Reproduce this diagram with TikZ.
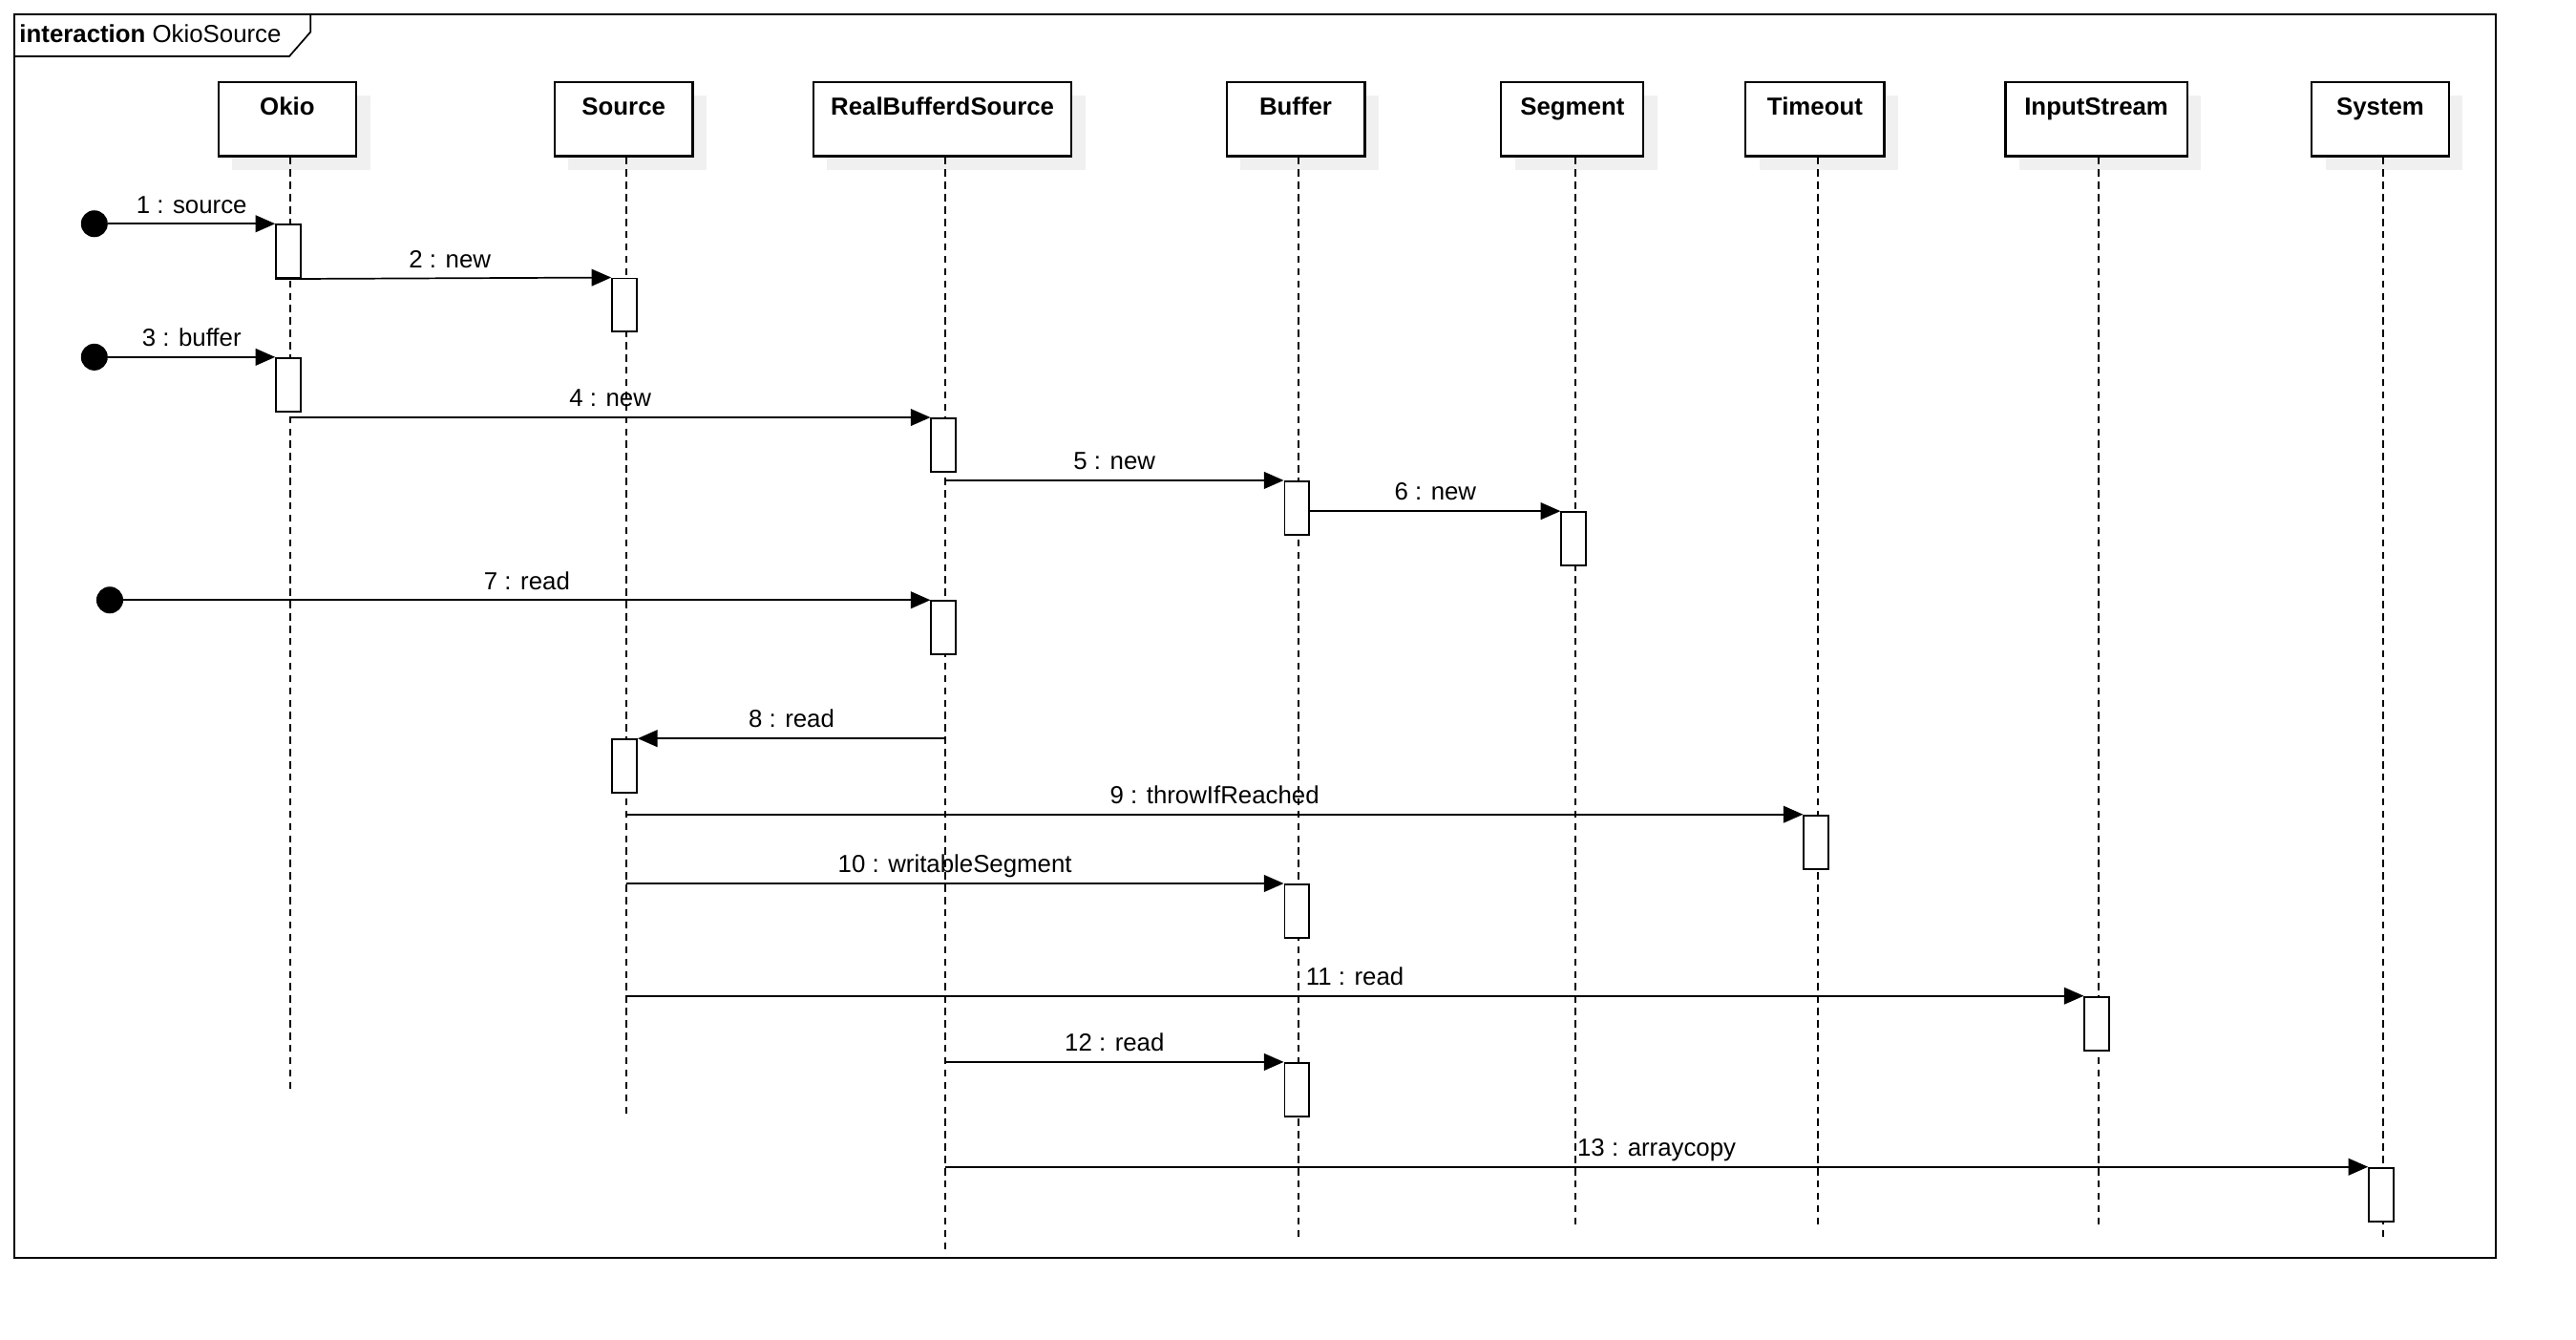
\documentclass[tikz,border=0pt]{standalone}
\usepackage{fontspec}
\setmainfont{Liberation Sans}
\usetikzlibrary{arrows.meta,shadows}
\begin{document}
\begin{tikzpicture}[x=1pt,y=-1pt,
  every node/.style={font=\fontsize{15pt}{18pt}\selectfont},
  headbox/.style={draw,line width=1.2pt,fill=white,rectangle,anchor=north,
    minimum height=45pt,inner xsep=2pt,inner ysep=9.2pt,text height=10.7pt,text depth=15.9pt,
    font=\fontsize{15pt}{18pt}\selectfont\bfseries,
    drop shadow={shadow xshift=8.4pt,shadow yshift=-8.2pt,fill=black!6,opacity=1}},
  actbox/.style={draw,line width=1.1pt,fill=white,rectangle,anchor=north,
    minimum width=15pt,minimum height=32.5pt,inner sep=0pt},
  lifeline/.style={line width=1pt,dash pattern=on 4.3pt off 3.2pt},
  msg/.style={line width=1pt,-{Triangle[length=12pt,width=10.3pt]}},
  lbl/.style={anchor=base,yshift=6.5pt,inner sep=0pt},
  startdot/.style={circle,fill=black,inner sep=0pt,minimum size=16.3pt},
  frameline/.style={line width=1pt}]
\useasboundingbox (0,0) rectangle (1567.5,814.6);
% frame
\draw[frameline] (8.6,8.7) rectangle (1518.5,765);
\draw[frameline] (8.6,34.3) -- (176,34.3) -- (189,19.4) -- (189,8.7);
\node[anchor=base west,inner sep=0pt] (title) at (11.7,25.8) {\textbf{interaction} OkioSource};
% lifeline heads
\node[headbox,minimum width=84pt]   (okio)   at (174.8,49.4)  {Okio};
\node[headbox,minimum width=84pt]   (source) at (379.5,49.4)  {Source};
\node[headbox,minimum width=157pt]  (rbs)    at (573.5,49.4)  {RealBufferdSource};
\node[headbox,minimum width=84.2pt] (buffer) at (788.4,49.4)  {Buffer};
\node[headbox,minimum width=86.5pt] (segment) at (956.8,49.4) {Segment};
\node[headbox,minimum width=84.3pt] (timeout) at (1104.4,49.4) {Timeout};
\node[headbox,minimum width=110.5pt] (istream) at (1275.6,49.4) {InputStream};
\node[headbox,minimum width=83.5pt] (system) at (1448.4,49.4) {System};
% lifeline ends
\coordinate (eokio) at (176.5,662.7);
\coordinate (esource) at (381,677.8);
\coordinate (erbs) at (575.2,761.5);
\coordinate (ebuffer) at (790.2,754.7);
\coordinate (esegment) at (958.6,746.6);
\coordinate (etimeout) at (1106.2,746.6);
\coordinate (eistream) at (1277,746.6);
\coordinate (esystem) at (1450,755);
\draw[lifeline] (okio.south -| eokio) -- (eokio);
\draw[lifeline] (source.south -| esource) -- (esource);
\draw[lifeline] (rbs.south -| erbs) -- (erbs);
\draw[lifeline] (buffer.south -| ebuffer) -- (ebuffer);
\draw[lifeline] (segment.south -| esegment) -- (esegment);
\draw[lifeline] (timeout.south -| etimeout) -- (etimeout);
\draw[lifeline] (istream.south -| eistream) -- (eistream);
\draw[lifeline] (system.south -| esystem) -- (esystem);
% activations
\node[actbox] (a1)  at (175.5,136.1) {};
\node[actbox] (a2)  at (380,168.8) {};
\node[actbox] (a3)  at (175.5,217.2) {};
\node[actbox] (a4)  at (574.2,253.9) {};
\node[actbox] (a5)  at (789.2,292.2) {};
\node[actbox] (a6)  at (957.6,310.9) {};
\node[actbox] (a7)  at (574.2,365) {};
\node[actbox] (a8)  at (380,449.2) {};
\node[actbox] (a9)  at (1105.2,495.4) {};
\node[actbox] (a10) at (789.2,537.4) {};
\node[actbox] (a11) at (1276,605.8) {};
\node[actbox] (a12) at (789.2,646) {};
\node[actbox] (a13) at (1449,709.8) {};
% start points
\node[startdot] (c1) at (57.4,136.1) {};
\node[startdot] (c3) at (57.4,217.2) {};
\node[startdot] (c7) at (66.8,365) {};
\coordinate (s4) at (176.5,253.9);
\coordinate (s5) at (575.2,292.2);
\coordinate (s6) at (a5.east |- a6.north);
\coordinate (s8) at (575.2,449.2);
\coordinate (s9) at (381,495.4);
\coordinate (s10) at (381,537.4);
\coordinate (s11) at (381,605.8);
\coordinate (s12) at (575.2,646);
\coordinate (s13) at (575.2,709.8);
% messages
\draw[msg] (c1) -- node[lbl]{1 : source} (a1.north west);
\draw[msg] (a1.south west) -- node[lbl,pos=0.52]{2 : new} (a2.north west);
\draw[msg] (c3) -- node[lbl]{3 : buffer} (a3.north west);
\draw[msg] (s4) -- node[lbl]{4 : new} (a4.north west);
\draw[msg] (s5) -- node[lbl]{5 : new} (a5.north west);
\draw[msg] (s6) -- node[lbl]{6 : new} (a6.north west);
\draw[msg] (c7) -- node[lbl]{7 : read} (a7.north west);
\draw[msg] (s8) -- node[lbl]{8 : read} (a8.north east);
\draw[msg] (s9) -- node[lbl]{9 : throwIfReached} (a9.north west);
\draw[msg] (s10) -- node[lbl]{10 : writableSegment} (a10.north west);
\draw[msg] (s11) -- node[lbl]{11 : read} (a11.north west);
\draw[msg] (s12) -- node[lbl]{12 : read} (a12.north west);
\draw[msg] (s13) -- node[lbl]{13 : arraycopy} (a13.north west);
\end{tikzpicture}
\end{document}
